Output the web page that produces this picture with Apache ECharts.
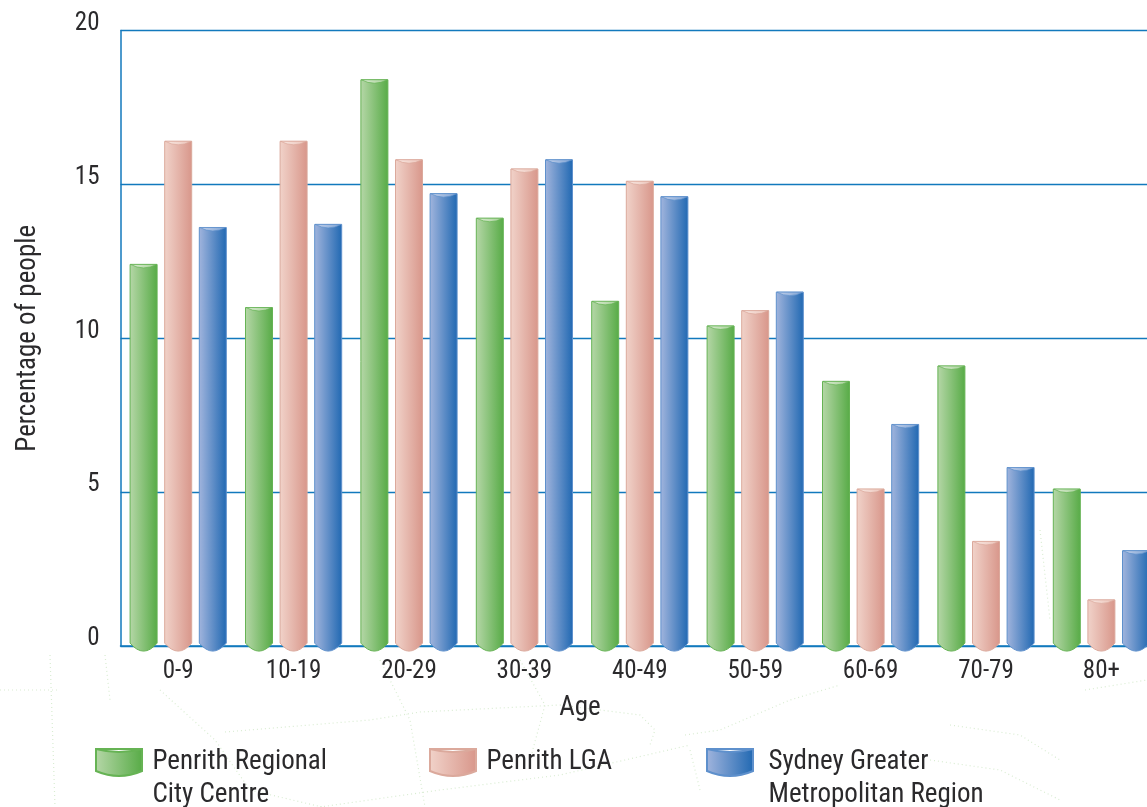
<!DOCTYPE html>
<html>
<head>
<meta charset="utf-8">
<style>html,body{margin:0;padding:0;background:#fff}#chart{width:1147px;height:807px}</style>
<script src="https://cdn.jsdelivr.net/npm/echarts@6/dist/echarts.min.js"></script>
</head>
<body>
<div id="chart"></div>
<script>
// Age profile of three areas, as a percentage of people in each age band.
const ageBands = ['0-9', '10-19', '20-29', '30-39', '40-49', '50-59', '60-69', '70-79', '80+'];
const cityCentre = [12.4, 11.0, 18.4, 13.9, 11.2, 10.4, 8.6, 9.1, 5.1];
const penrithLga = [16.4, 16.4, 15.8, 15.5, 15.1, 10.9, 5.1, 3.4, 1.5];
const sydneyMetro = [13.6, 13.7, 14.7, 15.8, 14.6, 11.5, 7.2, 5.8, 3.1];
const areaNames = ['Penrith Regional\nCity Centre', 'Penrith LGA', 'Sydney Greater\nMetropolitan Region'];
const tickValues = { min: 0, max: 20, step: 5 };

const FONT = '"Roboto Condensed", Roboto, sans-serif';
const INK = '#2b2a2c';
const RULE = '#1279bd';

function ramp(from, to) {
  return new echarts.graphic.LinearGradient(0, 0, 1, 0, [
    { offset: 0, color: from }, { offset: 1, color: to }
  ]);
}

const styles = [
  { fill: ramp('#b6d7a8', '#57ab46'), edge: '#66b354', cap: ramp('#dcecd4', '#a5d096') },
  { fill: ramp('#f1d3ca', '#d8968a'), edge: '#dba99c', cap: ramp('#f8e7e1', '#ecc4ba') },
  { fill: ramp('#a2b5dd', '#2068b2'), edge: '#5e90cc', cap: ramp('#c3d0ea', '#7fa4d4') }
];

// Each column is a cylinder: rounded foot below the baseline, flat top with a light cap.
const BAR_W = 27, BAR_STEP = 34.6;
function cylinder(seriesIndex) {
  return function (params, api) {
    const c = api.coord([api.value(0), api.value(1)]);
    const base = api.coord([api.value(0), 0])[1];
    const cx = c[0] + (seriesIndex - 1) * BAR_STEP;
    const l = cx - BAR_W / 2, r = cx + BAR_W / 2, t = c[1];
    const st = styles[seriesIndex];
    return {
      type: 'group',
      children: [
        {
          type: 'path',
          shape: {
            pathData: `M${l} ${t}L${r} ${t}L${r} ${base - 3}Q${cx} ${base + 13} ${l} ${base - 3}Z`
          },
          style: { fill: st.fill, stroke: st.edge, lineWidth: 1 }
        },
        {
          type: 'path',
          shape: {
            pathData: `M${l + 0.5} ${t}L${r - 0.5} ${t}Q${cx} ${t + 7} ${l + 0.5} ${t}Z`
          },
          style: { fill: st.cap, stroke: st.edge, lineWidth: 0.7 }
        }
      ]
    };
  };
}

function series(name, values, index) {
  return {
    name,
    type: 'custom',
    renderItem: cylinder(index),
    encode: { x: 0, y: 1 },
    itemStyle: { color: styles[index].fill, borderColor: styles[index].edge, borderWidth: 0.8 },
    data: values.map((v, i) => [i, v]),
    clip: false,
    z: 3
  };
}

const legendIcon = 'path://M0 0L46 0L46 22Q23 32 0 22ZM0 0Q23 6 46 0';

// A blank first line keeps the swatch level with the first line of a two-line name.
function legendAt(name, left, textGap) {
  const twoLines = name.includes('\n');
  return {
    data: [name],
    left,
    top: twoLines ? 711 : 744,
    orient: 'horizontal',
    icon: legendIcon,
    itemWidth: 47,
    itemHeight: 27,
    padding: 0,
    selectedMode: false,
    formatter: n => (twoLines ? '\n' + n : n),
    textStyle: {
      fontFamily: FONT, fontSize: 27, color: INK, lineHeight: 33,
      padding: [4, 0, 0, textGap]
    }
  };
}

// Faint street pattern printed behind the lower part of the chart.
const streets = [
  [[225, 732], [370, 720], [420, 712], [560, 705]],
  [[160, 690], [215, 740], [250, 790], [322, 807]],
  [[320, 807], [440, 790], [560, 775], [690, 745]],
  [[380, 660], [410, 720], [425, 807]],
  [[50, 655], [55, 807]],
  [[105, 655], [110, 700]],
  [[560, 705], [640, 715], [655, 730], [650, 745]],
  [[685, 735], [720, 730], [790, 700], [840, 685]],
  [[950, 725], [1020, 735], [1060, 760]],
  [[930, 760], [1000, 770], [1060, 800]],
  [[1085, 690], [1147, 680]],
  [[700, 790], [690, 750]],
  [[0, 690], [60, 690]],
  [[520, 660], [545, 705], [530, 760]],
  [[1040, 530], [1050, 620]]
];

const option = {
  animation: false,
  backgroundColor: '#ffffff',
  grid: { left: 120.5, top: 30.5, width: 1038.6, height: 615.6, containLabel: false, outerBoundsMode: 'none' },
  xAxis: {
    type: 'category',
    data: ageBands,
    boundaryGap: true,
    axisLine: { lineStyle: { color: RULE, width: 1.5 } },
    axisTick: { show: false },
    axisLabel: { fontFamily: FONT, fontSize: 25, color: INK, margin: 13 }
  },
  yAxis: {
    type: 'value',
    min: tickValues.min, max: tickValues.max, interval: tickValues.step,
    name: 'Percentage of people',
    nameLocation: 'middle',
    nameGap: 79,
    nameTextStyle: { fontFamily: FONT, fontSize: 27, color: INK },
    axisLine: { show: true, lineStyle: { color: RULE, width: 1.5 } },
    axisTick: { show: false },
    splitLine: { lineStyle: { color: RULE, width: 1.3 } },
    axisLabel: {
      fontFamily: FONT, fontSize: 25, color: INK, margin: 21,
      verticalAlign: 'bottom', lineHeight: 14
    }
  },
  legend: [
    legendAt(areaNames[0], 95, 5),
    legendAt(areaNames[1], 429, 5),
    legendAt(areaNames[2], 706, 10)
  ],
  series: [
    series(areaNames[0], cityCentre, 0),
    series(areaNames[1], penrithLga, 1),
    series(areaNames[2], sydneyMetro, 2)
  ],
  graphic: [
    ...streets.map(points => ({
      type: 'polyline',
      silent: true,
      z: -1,
      shape: { points },
      style: { fill: null, stroke: '#d9ecd2', lineWidth: 1.2, lineDash: [1, 3] }
    })),
    {
      type: 'text', x: 580, y: 708,
      style: { text: 'Age', fontFamily: FONT, fontSize: 27, fill: INK, align: 'center', verticalAlign: 'middle' }
    }
  ]
};

echarts.init(document.getElementById('chart'), null, { renderer: 'canvas' }).setOption(option);
</script>
</body>
</html>
